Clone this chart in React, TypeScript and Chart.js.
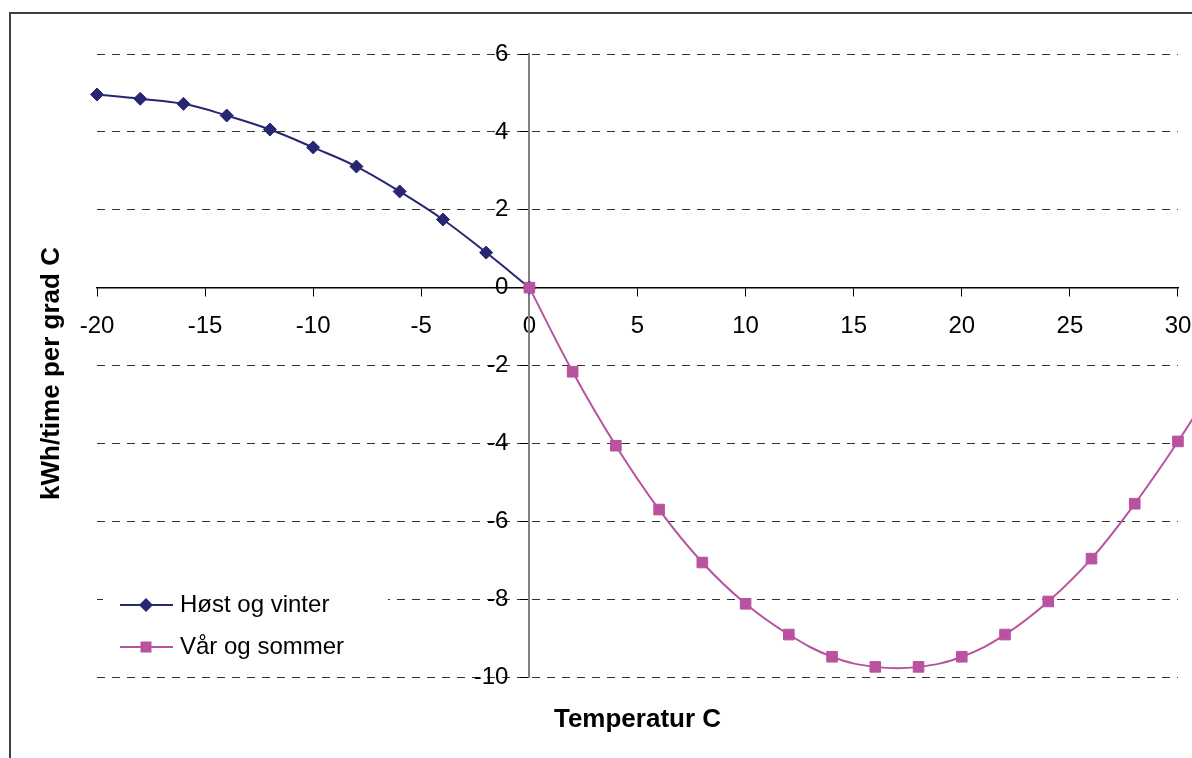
import React, { useEffect, useRef } from "react";
import { Chart, registerables } from "chart.js";

Chart.register(...registerables);

// ---- data ----
const winterTemps = [-20, -18, -16, -14, -12, -10, -8, -6, -4, -2, 0];
const winterValues = [4.96, 4.85, 4.72, 4.42, 4.06, 3.6, 3.11, 2.47, 1.75, 0.9, 0];
const summerTemps = [0, 2, 4, 6, 8, 10, 12, 14, 16, 18, 20, 22, 24, 26, 28, 30, 32];
const summerValues = [0, -2.16, -4.06, -5.7, -7.06, -8.12, -8.91, -9.48, -9.74, -9.74, -9.48, -8.91, -8.06, -6.96, -5.55, -3.95, -2.2];
const xTickValues = [-20, -15, -10, -5, 0, 5, 10, 15, 20, 25, 30];
const yTickValues = [-10, -8, -6, -4, -2, 0, 2, 4, 6];
const seriesNames = ["Høst og vinter", "Vår og sommer"];
const xTitle = "Temperatur C";
const yTitle = "kWh/time per grad C";

const NAVY = "#262673";
const PINK = "#B9529F";
const FONT = '"Liberation Sans", Arial, sans-serif';

const labelShiftPlugin = {
  id: "labelShift",
  beforeDraw(chart: any) {
    const s = chart.scales.y;
    if (s && !s.__patched) {
      const orig = s._computeLabelItems.bind(s);
      s._computeLabelItems = (ca: any) =>
        orig(ca).map((it: any) => ({
          ...it,
          options: {
            ...it.options,
            translation: [it.options.translation[0] - 21, it.options.translation[1]],
          },
        }));
      s._labelItems = null;
      s.__patched = true;
    }
  },
};

const overlayPlugin = {
  id: "overlay",
  afterDraw(chart: any) {
    const { ctx, chartArea: ca } = chart;
    ctx.save();
    ctx.fillStyle = "#000";
    ctx.font = `bold 26px ${FONT}`;
    ctx.textAlign = "center";
    ctx.textBaseline = "alphabetic";
    ctx.fillText(xTitle, (ca.left + ca.right) / 2, ca.bottom + 50);
    ctx.save();
    ctx.translate(59, (ca.top + ca.bottom) / 2 + 8);
    ctx.rotate(-Math.PI / 2);
    ctx.fillText(yTitle, 0, 0);
    ctx.restore();

    // legend
    ctx.fillStyle = "#fff";
    ctx.fillRect(ca.left + 6, ca.bottom - 100, 285, 92);
    const rows = [
      { name: seriesNames[0], color: NAVY, shape: "diamond", y: ca.bottom - 72 },
      { name: seriesNames[1], color: PINK, shape: "square", y: ca.bottom - 30 },
    ];
    for (const r of rows) {
      ctx.strokeStyle = r.color;
      ctx.lineWidth = 2;
      ctx.beginPath();
      ctx.moveTo(ca.left + 23, r.y);
      ctx.lineTo(ca.left + 76, r.y);
      ctx.stroke();
      ctx.fillStyle = r.color;
      const cx = ca.left + 49;
      if (r.shape === "diamond") {
        ctx.beginPath();
        ctx.moveTo(cx - 7, r.y);
        ctx.lineTo(cx, r.y - 7);
        ctx.lineTo(cx + 7, r.y);
        ctx.lineTo(cx, r.y + 7);
        ctx.closePath();
        ctx.fill();
      } else {
        ctx.fillRect(cx - 5.5, r.y - 5.5, 11, 11);
      }
      ctx.fillStyle = "#000";
      ctx.font = `24px ${FONT}`;
      ctx.textAlign = "left";
      ctx.textBaseline = "middle";
      ctx.fillText(r.name, ca.left + 83, r.y);
    }
    ctx.restore();
  },
};

export default function App() {
  const ref = useRef<HTMLCanvasElement>(null);
  useEffect(() => {
    if (!ref.current) return;
    Chart.defaults.font.family = FONT;
    const chart = new Chart(ref.current, {
      type: "line",
      data: {
        datasets: [
          {
            label: seriesNames[0],
            data: winterTemps.map((t, i) => ({ x: t, y: winterValues[i] })),
            borderColor: NAVY,
            backgroundColor: NAVY,
            borderWidth: 2,
            pointStyle: "rectRot",
            pointRadius: 6.5,
            pointBorderWidth: 1,
            tension: 0.4,
            fill: false,
            clip: false as any,
            order: 1,
          },
          {
            label: seriesNames[1],
            data: summerTemps.map((t, i) => ({ x: t, y: summerValues[i] })),
            borderColor: PINK,
            backgroundColor: PINK,
            borderWidth: 2,
            pointStyle: "rect",
            pointRadius: 7.5,
            pointBorderWidth: 1,
            tension: 0.4,
            fill: false,
            clip: false as any,
            order: 0,
          },
        ],
      },
      options: {
        animation: false,
        responsive: false,
        devicePixelRatio: 1,
        layout: { padding: { left: 97, top: 54, right: 62, bottom: 123 } },
        plugins: { legend: { display: false }, tooltip: { enabled: false } },
        scales: {
          x: {
            type: "linear",
            position: { y: 0 } as any,
            min: -20,
            max: 30.001,
            afterBuildTicks: (s: any) => {
              s.ticks = xTickValues.map((v) => ({ value: v }));
            },
            ticks: {
              color: "#000",
              font: { size: 24, family: FONT },
              padding: 16,
              maxRotation: 0,
              autoSkip: false,
              callback: (v: any) => String(v),
            },
            grid: {
              display: true,
              drawOnChartArea: false,
              drawTicks: true,
              tickLength: 8,
              tickColor: "#000",
              tickWidth: 1,
            },
            border: { display: true, color: "#000", width: 1.5 },
          },
          y: {
            type: "linear",
            position: { x: 0 } as any,
            min: -10,
            max: 6,
            afterBuildTicks: (s: any) => {
              s.ticks = yTickValues.map((v) => ({ value: v }));
            },
            ticks: {
              color: "#000",
              font: { size: 24, family: FONT },
              padding: 12,
              autoSkip: false,
              callback: (v: any) => String(v),
            },
            grid: {
              display: true,
              drawOnChartArea: true,
              drawTicks: true,
              tickLength: 8,
              color: "#333",
              lineWidth: 1,
              tickColor: "#000",
              tickWidth: 1,
            },
            border: { display: true, color: "#808080", width: 2, dash: [8, 7] },
          },
        },
      },
      plugins: [labelShiftPlugin, overlayPlugin],
    });
    return () => chart.destroy();
  }, []);

  return (
    <div style={{ position: "fixed", left: 0, top: 0, width: 1192, height: 758, overflow: "hidden", background: "#fff" }}>
      <div
        style={{
          position: "absolute",
          left: 9,
          top: 12,
          width: 1400,
          height: 1000,
          borderLeft: "2px solid #404040",
          borderTop: "2px solid #404040",
        }}
      />
      <canvas ref={ref} width={1240} height={800} style={{ position: "absolute", left: 0, top: 0, width: 1240, height: 800 }} />
    </div>
  );
}
